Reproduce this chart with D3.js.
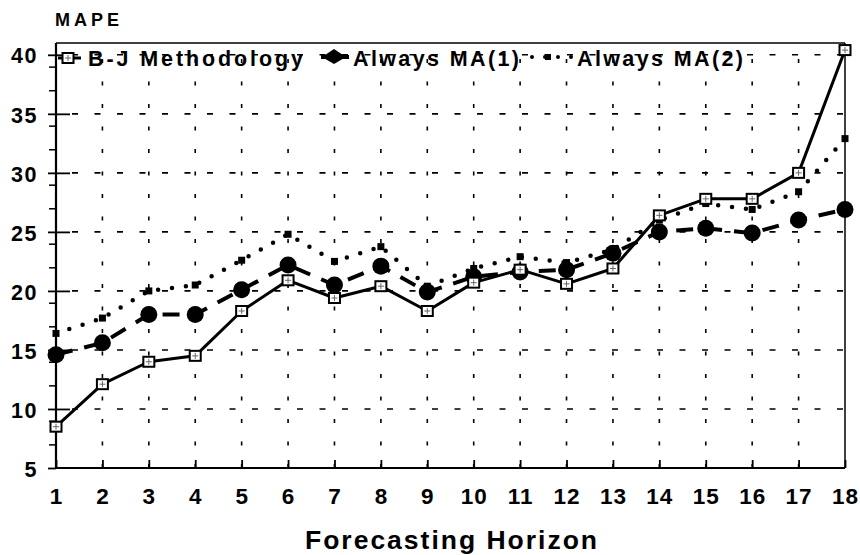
<!DOCTYPE html>
<html>
<head>
<meta charset="utf-8">
<script src="https://cdn.jsdelivr.net/npm/d3@7/dist/d3.min.js"></script>
<style>
  html, body { margin: 0; padding: 0; background: #fff; }
  svg { display: block; }
  text { font-family: "Liberation Sans", Arial, Helvetica, sans-serif; font-weight: bold; fill: #000; }
</style>
</head>
<body>
<svg id="chart" width="860" height="555"></svg>
<script>
// ---------------- data ----------------
const horizons = [1,2,3,4,5,6,7,8,9,10,11,12,13,14,15,16,17,18];
const bjMethodology = [8.5, 12.1, 14.0, 14.5, 18.3, 20.9, 19.4, 20.4, 18.3, 20.7, 21.8, 20.6, 21.9, 26.4, 27.8, 27.8, 30.0, 40.4];
const alwaysMA1 = [14.6, 15.6, 18.0, 18.0, 20.1, 22.2, 20.5, 22.1, 19.9, 21.2, 21.6, 21.8, 23.2, 25.0, 25.3, 24.9, 26.0, 26.9];
const alwaysMA2 = [16.4, 17.7, 20.0, 20.5, 22.6, 24.8, 22.5, 23.75, 20.4, 21.9, 22.9, 22.4, 23.5, 26.0, 27.4, 26.9, 28.4, 32.9];
const yTickValues = [5, 10, 15, 20, 25, 30, 35, 40];
const yMinorTicks = [7, 9, 12, 14, 17, 19, 22, 24, 27, 29, 32, 34, 37, 39];
const seriesNames = ["B-J Methodology", "Always MA(1)", "Always MA(2)"];
const yTitle = "MAPE";
const xTitle = "Forecasting Horizon";

// ---------------- layout ----------------
const svg = d3.select("#chart");
const L = 56, R = 845, T = 43, B = 468;
const x = d3.scaleLinear().domain([1, 18]).range([L, R]);
const y = d3.scaleLinear().domain([5, 41]).range([B, T]);

// grid
const grid = svg.append("g");
grid.selectAll("line.h").data(yTickValues.filter(v => v > 5)).join("line")
  .attr("x1", L).attr("x2", R).attr("y1", d => y(d)).attr("y2", d => y(d))
  .attr("stroke", "#000").attr("stroke-width", 1.6).attr("stroke-dasharray", "0,16,6,0.5");
grid.selectAll("line.v").data(horizons.filter(v => v > 1 && v < 18)).join("line")
  .attr("x1", d => x(d)).attr("x2", d => x(d)).attr("y1", B).attr("y2", T)
  .attr("stroke", "#000").attr("stroke-width", 1.6).attr("stroke-dasharray", "4,18.5");

// frame
svg.append("line").attr("x1", L).attr("x2", R).attr("y1", T).attr("y2", T).attr("stroke", "#000").attr("stroke-width", 1.5);
svg.append("line").attr("x1", R).attr("x2", R).attr("y1", T).attr("y2", B).attr("stroke", "#000").attr("stroke-width", 1.5);

// y axis (labels + outer major ticks)
const yAx = svg.append("g").attr("transform", `translate(${L},0)`)
  .call(d3.axisLeft(y).tickValues(yTickValues).tickSize(8).tickPadding(10).tickFormat(d3.format("d")));
yAx.select(".domain").attr("stroke-width", 2.2).attr("d", `M0,${T}V${B}`);
yAx.selectAll(".tick line").attr("stroke-width", 1.8);
yAx.selectAll(".tick text").attr("font-size", 21.5).attr("font-family", null).attr("letter-spacing", 1.5).attr("dy", "0.38em");
// inner major ticks
const yAxIn = svg.append("g").attr("transform", `translate(${L},0)`)
  .call(d3.axisRight(y).tickValues(yTickValues.filter(v => v > 5)).tickSize(14).tickFormat(""));
yAxIn.select(".domain").remove();
yAxIn.selectAll(".tick line").attr("stroke-width", 1.8);
// minor ticks
const yAxMinor = svg.append("g").attr("transform", `translate(${L},0)`)
  .call(d3.axisLeft(y).tickValues(yMinorTicks).tickSize(7).tickFormat(""));
yAxMinor.select(".domain").remove();
yAxMinor.selectAll(".tick line").attr("stroke-width", 1.5);

// x axis
const xAx = svg.append("g").attr("transform", `translate(0,${B})`)
  .call(d3.axisBottom(x).tickValues(horizons).tickSize(-8).tickPadding(20).tickFormat(d3.format("d")));
xAx.select(".domain").attr("stroke-width", 2.2).attr("d", `M${L},0H${R}`);
xAx.selectAll(".tick line").attr("stroke-width", 1.8);
xAx.selectAll(".tick text").attr("font-size", 22.5).attr("font-family", null).attr("letter-spacing", 1);

svg.selectAll(".tick text").style("font-weight", "bold");

// lines
const mk = vals => d3.line().x((d, i) => x(horizons[i])).y(d => y(d))(vals);
svg.append("path").attr("d", mk(alwaysMA2)).attr("fill", "none").attr("stroke", "#000")
  .attr("stroke-width", 4.5).attr("stroke-linecap", "round").attr("stroke-dasharray", "0,14");
svg.append("path").attr("d", mk(alwaysMA1)).attr("fill", "none").attr("stroke", "#000")
  .attr("stroke-width", 4).attr("stroke-dasharray", "17,12");
svg.append("path").attr("d", mk(bjMethodology)).attr("fill", "none").attr("stroke", "#000")
  .attr("stroke-width", 3).attr("stroke-linejoin", "round");

// markers
function squareMarker(g, cx, cy) {
  g.append("rect").attr("x", cx - 5.5).attr("y", cy - 5).attr("width", 11).attr("height", 10)
    .attr("fill", "#fff").attr("stroke", "#000").attr("stroke-width", 2);
  g.append("path").attr("d", `M${cx - 3},${cy}H${cx + 3}M${cx},${cy - 3}V${cy + 3}`)
    .attr("stroke", "#666").attr("stroke-width", 1);
}
svg.append("g").selectAll("rect").data(alwaysMA2).join("rect")
  .attr("x", (d, i) => x(horizons[i]) - 3.5).attr("y", d => y(d) - 3.5)
  .attr("width", 7).attr("height", 7).attr("fill", "#000");
svg.append("g").selectAll("circle").data(alwaysMA1).join("circle")
  .attr("cx", (d, i) => x(horizons[i])).attr("cy", d => y(d)).attr("r", 8.5).attr("fill", "#000");
const bjG = svg.append("g");
bjMethodology.forEach((d, i) => squareMarker(bjG, x(horizons[i]), y(d)));

// legend
const lg = svg.append("g");
lg.append("line").attr("x1", 58).attr("x2", 81).attr("y1", 58).attr("y2", 58).attr("stroke", "#000").attr("stroke-width", 3);
squareMarker(lg, 68, 58);
lg.append("text").attr("x", 88).attr("y", 66).attr("font-size", 21.5).attr("textLength", 215).attr("lengthAdjust", "spacing").text(seriesNames[0]);
lg.append("line").attr("x1", 321).attr("x2", 349).attr("y1", 57).attr("y2", 57).attr("stroke", "#000").attr("stroke-width", 4);
lg.append("path").attr("d", "M322,57L334,49L346,57L334,64Z").attr("fill", "#000");
lg.append("text").attr("x", 353).attr("y", 66).attr("font-size", 21.5).attr("textLength", 166).attr("lengthAdjust", "spacing").text(seriesNames[1]);
lg.append("line").attr("x1", 532).attr("x2", 572).attr("y1", 57).attr("y2", 57).attr("stroke", "#000")
  .attr("stroke-width", 4).attr("stroke-linecap", "round").attr("stroke-dasharray", "0,13");
lg.append("rect").attr("x", 545).attr("y", 54).attr("width", 6).attr("height", 6).attr("fill", "#000");
lg.append("text").attr("x", 577).attr("y", 66).attr("font-size", 21.5).attr("textLength", 166).attr("lengthAdjust", "spacing").text(seriesNames[2]);

// titles
svg.append("text").attr("x", 55).attr("y", 26).attr("font-size", 18).attr("textLength", 64).attr("lengthAdjust", "spacing").text(yTitle);
svg.append("text").attr("x", 305).attr("y", 549).attr("font-size", 26.5).attr("textLength", 292).attr("lengthAdjust", "spacing").text(xTitle);
</script>
</body>
</html>
